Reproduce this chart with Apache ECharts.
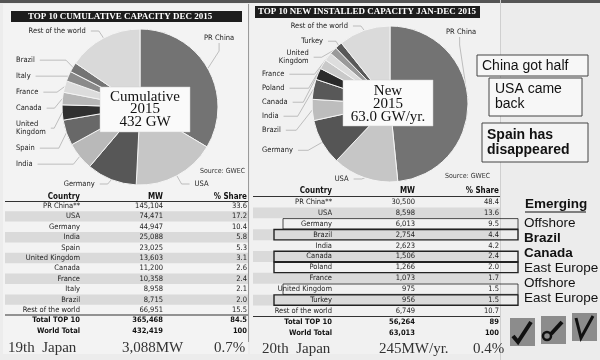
<!DOCTYPE html>
<html><head><meta charset="utf-8">
<script src="https://cdn.jsdelivr.net/npm/echarts@6/dist/echarts.min.js"></script>
<style>html,body{margin:0;padding:0;background:#ececec}#c{width:600px;height:360px}</style>
</head><body><div id="c"></div>
<script>
// ---------- data ----------
const leftTitle = 'TOP 10 CUMULATIVE CAPACITY DEC 2015';
const rightTitle = 'TOP 10 NEW INSTALLED CAPACITY JAN-DEC 2015';
const leftCountries = ['PR China','USA','Germany','India','Spain','United Kingdom','Canada','France','Italy','Brazil','Rest of the world'];
const leftMW = [145104, 74471, 44947, 25088, 23025, 13603, 11200, 10358, 8958, 8715, 66951];
const leftMWText = ['145,104','74,471','44,947','25,088','23,025','13,603','11,200','10,358','8,958','8,715','66,951'];
const leftShare = ['33.6','17.2','10.4','5.8','5.3','3.1','2.6','2.4','2.1','2.0','15.5'];
const leftTotals = [['Total TOP 10','365,468','84.5'],['World Total','432,419','100']];
const leftCenter = ['Cumulative','2015','432 GW'];
const leftJapan = ['19th  Japan','3,088MW','0.7%'];
const leftFreeLabels = ['PR China','USA','Germany','Rest of the world'];

const rightCountries = ['PR China','USA','Germany','Brazil','India','Canada','Poland','France','United Kingdom','Turkey','Rest of the world'];
const rightMW = [30500, 8598, 6013, 2754, 2623, 1506, 1266, 1073, 975, 956, 6749];
const rightMWText = ['30,500','8,598','6,013','2,754','2,623','1,506','1,266','1,073','975','956','6,749'];
const rightShare = ['48.4','13.6','9.5','4.4','4.2','2.4','2.0','1.7','1.5','1.5','10.7'];
const rightTotals = [['Total TOP 10','56,264','89'],['World Total','63,013','100']];
const rightCenter = ['New','2015','63.0 GW/yr.'];
const rightJapan = ['20th  Japan','245MW/yr.','0.4%'];
const rightFreeLabels = ['PR China','USA','United Kingdom','Turkey','Rest of the world'];

const tableHeader = ['Country','MW','% Share'];
const sourceText = 'Source: GWEC';
const notes = ['China got half','USA came\nback','Spain has\ndisappeared'];
const emergingTitle = 'Emerging';
const emergingItems = ['Offshore','Brazil','Canada','East Europe','Offshore','East Europe'];
const emergingRows = [2,3,5,6,8,9]; // rows of right table that are boxed

// ---------- styles ----------
const leftColors = ['#737373','#c6c6c6','#575757','#b9b9b9','#686868','#303030','#b7b7b7','#dcdcdc','#8a8a8a','#747474','#d9d9d9'];
const rightColors = ['#737373','#c6c6c6','#555555','#bdbdbd','#585858','#2a2a2a','#c9c9c9','#dddddd','#9a9a9a','#585858','#dadada'];
const narrow = '"DejaVu Sans Condensed","Liberation Sans Narrow","Liberation Sans",sans-serif';
const serif = '"Liberation Serif","DejaVu Serif",serif';
const sans = '"Liberation Sans",Arial,sans-serif';

function pieSeries(names, vals, colors, box, center, r, free, chinaLabelPos, pad, edgeLen) {
  return {
    type: 'pie', left: box[0], top: box[1], width: box[2], height: box[3],
    center: center, radius: [0, r], startAngle: 90, clockwise: true,
    animation: false, silent: true,
    itemStyle: { borderColor: '#f4f4f4', borderWidth: 1 },
    label: {
      show: true, position: 'outside', alignTo: 'edge', edgeDistance: 4, overflow: 'none',
      fontFamily: narrow, fontSize: 7.5, color: '#222', lineHeight: 8, padding: [pad, 0, pad, 0],
      formatter: p => p.name === 'United Kingdom' ? 'United\nKingdom' : p.name
    },
    labelLine: { show: true, length: edgeLen, length2: 8, lineStyle: { color: '#999', width: 0.6 } },
    labelLayout: p => p.dataIndex === 0 ? { x: chinaLabelPos[0], y: chinaLabelPos[1], align: 'left', verticalAlign: 'middle' } : {},
    data: names.map((n, i) => {
      const d = { name: n, value: vals[i], itemStyle: { color: colors[i] } };
      if (free.indexOf(n) >= 0) {
        d.label = { alignTo: 'none', padding: [1, 0, 1, 0] };
        d.labelLine = { length: 10, length2: 8 };
      }
      return d;
    })
  };
}

const g = [];
function txt(x, y, s, font, align, fill, extra) {
  g.push(Object.assign({ type: 'text', z: 50, style: { x: x, y: y, text: s, font: font, textAlign: align || 'left', textVerticalAlign: 'middle', fill: fill || '#222', lineHeight: 15 } }, extra || {}));
}
function rect(x, y, w, h, fill, stroke, lw, z) {
  g.push({ type: 'rect', z: z || 40, shape: { x: x, y: y, width: w, height: h }, style: { fill: fill || 'none', stroke: stroke || null, lineWidth: lw || 0 } });
}
function line(x1, y1, x2, y2, stroke, lw, z) {
  g.push({ type: 'line', z: z || 45, shape: { x1: x1, y1: y1, x2: x2, y2: y2 }, style: { stroke: stroke, lineWidth: lw } });
}

// panel backgrounds
rect(3, 4, 245, 350, '#f3f3f3', null, 0, 1);
rect(250, 2, 250, 352, '#f1f1f1', null, 0, 1);
rect(0, 0, 600, 3, '#555', null, 0, 2);
line(248.5, 4, 248.5, 342, '#9a9a9a', 1, 3);
line(500.5, 0, 500.5, 360, '#cfcfcf', 1, 3);

// title bars
rect(11, 11, 231, 11, '#1d1d1d', null, 0, 40);
txt(28, 16.5, leftTitle, 'bold 9px ' + serif, 'left', '#fff');
rect(255, 6, 225, 12, '#1d1d1d', null, 0, 40);
txt(258, 12, rightTitle, 'bold 9px ' + serif, 'left', '#fff');

// center boxes
function centerBox(x, y, w, h, lines, cx, ly) {
  rect(x, y, w, h, '#fafafa', '#cfcfcf', 0.5, 60);
  lines.forEach((s, i) => txt(cx, ly[i], s, '15px ' + serif, 'center', '#111', { z: 61 }));
}
centerBox(100, 87, 90, 45, leftCenter, 145, [97, 109.5, 122]);
centerBox(343, 80, 90, 46, rightCenter, 388, [91, 104, 117]);

txt(200, 171, sourceText, '7px ' + narrow, 'left', '#333');
txt(445, 176, sourceText, '7px ' + narrow, 'left', '#333');

// tables
function table(cols, y0, step, names, mw, share, totals, xl, xr, headerY, lineY1, lineY2, japan, jx, jy) {
  for (let i = 1; i < names.length; i += 2) {
    rect(xl, y0 + i * step - step / 2, xr - xl, step, '#dadada', null, 0, 20);
  }
  tableHeader.forEach((h, k) => txt(cols[k], headerY, h, 'bold 8px ' + narrow, 'right', '#111'));
  line(xl, lineY1, xr, lineY1, '#333', 1.2);
  names.forEach((n, i) => {
    const y = y0 + i * step;
    const nm = n === 'PR China' ? 'PR China**' : n;
    txt(cols[0], y, nm, '7.5px ' + narrow, 'right', '#222');
    txt(cols[1], y, mw[i], '7.5px ' + narrow, 'right', '#222');
    txt(cols[2], y, share[i], '7.5px ' + narrow, 'right', '#222');
  });
  line(xl, lineY2, xr, lineY2, '#333', 1.2);
  totals.forEach((t, k) => {
    const y = lineY2 + 5.5 + k * step;
    t.forEach((s, c) => txt(cols[c], y, s, 'bold 7.5px ' + narrow, 'right', '#111'));
  });
  japan.forEach((s, k) => txt(jx[k], jy, s, '15px ' + serif, 'left', '#333'));
}
table([80, 163, 247], 206, 10.4, leftCountries, leftMWText, leftShare, leftTotals, 5, 248, 197, 201.5, 315, leftJapan, [8, 122, 214], 348);
table([332, 415, 499], 202, 10.9, rightCountries, rightMWText, rightShare, rightTotals, 253, 500, 191, 196.5, 316.5, rightJapan, [262, 379, 473], 349);

// boxed rows + emerging list
emergingRows.forEach((r, k) => {
  const y = 202 + r * 10.9;
  const thick = !(r === 2 || r === 8);
  const x0 = thick ? 274 : 283;
  rect(x0, y - 5.2, 518 - x0, 10.4, 'none', '#222', thick ? 1.4 : 0.8, 46);
  const b = (emergingItems[k] === 'Brazil' || emergingItems[k] === 'Canada') ? 'bold ' : '';
  txt(524, 223 + k * 15, emergingItems[k], b + '13.5px ' + sans, 'left', '#111');
});
txt(525, 204, emergingTitle, 'bold 13.5px ' + sans, 'left', '#111');
line(525, 212, 586, 212, '#111', 1.2);

// note boxes
rect(477, 55, 111, 21, '#f7f7f7', '#444', 1, 40);
txt(482, 66, notes[0], '14px ' + sans, 'left', '#111');
rect(489, 78, 93, 38, '#f7f7f7', '#444', 1, 40);
txt(495, 97, notes[1], '14px ' + sans, 'left', '#111');
rect(482, 123, 106, 39, '#f4f4f4', '#444', 1, 40);
txt(487, 142.5, notes[2], 'bold 14px ' + sans, 'left', '#111');

// decorative logos
[[510, 318], [541, 316], [572, 313]].forEach(p => rect(p[0], p[1], 25, 28, '#8c8c8c', null, 0, 40));
g.push({ type: 'polyline', z: 48, shape: { points: [[513, 336], [518, 342], [531, 322]] }, style: { stroke: '#111', lineWidth: 4, fill: null } });
g.push({ type: 'circle', z: 48, shape: { cx: 547, cy: 336, r: 4 }, style: { stroke: '#111', lineWidth: 2.5, fill: null } });
g.push({ type: 'line', z: 48, shape: { x1: 551, y1: 334, x2: 562, y2: 322 }, style: { stroke: '#111', lineWidth: 4 } });
g.push({ type: 'polyline', z: 48, shape: { points: [[576, 318], [581, 338], [593, 316]] }, style: { stroke: '#111', lineWidth: 3, fill: null } });

const chart = echarts.init(document.getElementById('c'), null, { renderer: 'canvas' });
chart.setOption({
  backgroundColor: '#ececec',
  animation: false,
  series: [
    pieSeries(leftCountries, leftMW, leftColors, [12, 25, 235, 165], [128, 82], 78, leftFreeLabels, [204, 38], 3, 8),
    pieSeries(rightCountries, rightMW, rightColors, [258, 20, 232, 165], [132, 84], 78, rightFreeLabels, [446, 32], 2, 16)
  ],
  graphic: { elements: g }
});
</script></body></html>
